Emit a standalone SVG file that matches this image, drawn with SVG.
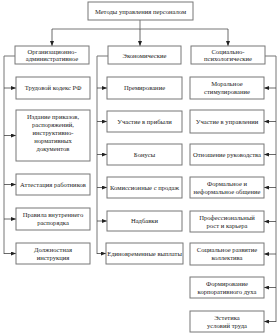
<svg xmlns="http://www.w3.org/2000/svg" width="280" height="333" viewBox="0 0 280 333">
<defs>
<marker id="ah" markerWidth="5" markerHeight="4" refX="5" refY="2" orient="auto" markerUnits="userSpaceOnUse">
<path d="M0,0 L5,2 L0,4 Z" fill="#222"/>
</marker>
<style>
.b{fill:#fff;stroke:#777;stroke-width:1}
.t{font-family:"Liberation Serif","DejaVu Serif",serif;font-size:6.6px;fill:#222;text-anchor:middle}
.c{fill:none;stroke:#777;stroke-width:1}
.a{fill:none;stroke:#444;stroke-width:0.8;marker-end:url(#ah)}
</style>
</defs>
<rect width="280" height="333" fill="#fff"/>
<g id="connectors">
<path class="c" d="M140,20 V29 M52,29 H228"/>
<line class="a" x1="52" y1="29" x2="52" y2="46"/>
<line class="a" x1="140" y1="29" x2="140" y2="46"/>
<line class="a" x1="228" y1="29" x2="228" y2="46"/>
<path class="c" d="M15,56 H4 V254"/>
<path class="c" d="M108,56 H97 V254"/>
<path class="c" d="M265,56 H276 V322"/>
<line class="a" x1="4" y1="88" x2="16" y2="88"/>
<line class="a" x1="4" y1="135.5" x2="16" y2="135.5"/>
<line class="a" x1="4" y1="184.5" x2="16" y2="184.5"/>
<line class="a" x1="4" y1="219" x2="16" y2="219"/>
<line class="a" x1="4" y1="253.5" x2="16" y2="253.5"/>
<line class="a" x1="97" y1="88" x2="107" y2="88"/>
<line class="a" x1="97" y1="121.5" x2="107" y2="121.5"/>
<line class="a" x1="97" y1="154.5" x2="107" y2="154.5"/>
<line class="a" x1="97" y1="187.5" x2="107" y2="187.5"/>
<line class="a" x1="97" y1="221" x2="107" y2="221"/>
<line class="a" x1="97" y1="253.5" x2="106" y2="253.5"/>
<line class="a" x1="276" y1="88" x2="264" y2="88"/>
<line class="a" x1="276" y1="121.5" x2="264" y2="121.5"/>
<line class="a" x1="276" y1="154.5" x2="264" y2="154.5"/>
<line class="a" x1="276" y1="187.5" x2="264" y2="187.5"/>
<line class="a" x1="276" y1="221.5" x2="264" y2="221.5"/>
<line class="a" x1="276" y1="254" x2="264" y2="254"/>
<line class="a" x1="276" y1="287.5" x2="264" y2="287.5"/>
<line class="a" x1="276" y1="321.5" x2="264" y2="321.5"/>
</g>
<g id="root"><rect class="b" x="88" y="2" width="105" height="18"/><text class="t" x="140.5" y="13.5">Методы управления персоналом</text></g>
<g id="org"><rect class="b" x="15" y="46" width="74" height="18"/><text class="t" x="52" y="53.5">Организационно-</text><text class="t" x="52" y="61">административное</text></g>
<g id="eco"><rect class="b" x="108" y="46" width="73" height="18"/><text class="t" x="144.5" y="57.5">Экономические</text></g>
<g id="soc"><rect class="b" x="191" y="46" width="74" height="18"/><text class="t" x="228" y="53.5">Социально-</text><text class="t" x="228" y="61">психологические</text></g>

<g id="l1"><rect class="b" x="16" y="77" width="74" height="22"/><text class="t" x="53" y="90">Трудовой кодекс РФ</text></g>
<g id="l2"><rect class="b" x="16" y="110" width="74" height="51"/><text class="t" x="53" y="119">Издание приказов,</text><text class="t" x="53" y="127">распоряжений,</text><text class="t" x="53" y="135">инструктивно-</text><text class="t" x="53" y="143">нормативных</text><text class="t" x="53" y="151">документов</text></g>
<g id="l3"><rect class="b" x="16" y="174" width="74" height="21"/><text class="t" x="53" y="187">Аттестация работников</text></g>
<g id="l4"><rect class="b" x="16" y="208" width="74" height="22"/><text class="t" x="53" y="217">Правила внутреннего</text><text class="t" x="53" y="225">распорядка</text></g>
<g id="l5"><rect class="b" x="16" y="243" width="74" height="21"/><text class="t" x="53" y="251.5">Должностная</text><text class="t" x="53" y="259.5">инструкция</text></g>

<g id="m1"><rect class="b" x="107" y="77" width="75" height="22"/><text class="t" x="144.5" y="90">Премирование</text></g>
<g id="m2"><rect class="b" x="107" y="111" width="75" height="21"/><text class="t" x="144.5" y="123.5">Участие в прибыли</text></g>
<g id="m3"><rect class="b" x="107" y="144" width="75" height="21"/><text class="t" x="144.5" y="156.5">Бонусы</text></g>
<g id="m4"><rect class="b" x="107" y="177" width="75" height="21"/><text class="t" x="144.5" y="189.5">Комиссионные с продаж</text></g>
<g id="m5"><rect class="b" x="107" y="211" width="75" height="20"/><text class="t" x="144.5" y="223">Надбавки</text></g>
<g id="m6"><rect class="b" x="106" y="243" width="77" height="21"/><text class="t" x="144.5" y="255.5">Единовременные выплаты</text></g>

<g id="r1"><rect class="b" x="190" y="77" width="74" height="22"/><text class="t" x="227" y="85.5">Моральное</text><text class="t" x="227" y="93.5">стимулирование</text></g>
<g id="r2"><rect class="b" x="190" y="110" width="74" height="23"/><text class="t" x="227" y="123.5">Участие в управлении</text></g>
<g id="r3"><rect class="b" x="190" y="144" width="74" height="21"/><text class="t" x="227" y="156.5">Отношение руководства</text></g>
<g id="r4"><rect class="b" x="190" y="177" width="74" height="21"/><text class="t" x="227" y="185.5">Формальное и</text><text class="t" x="227" y="193.5">неформальное общение</text></g>
<g id="r5"><rect class="b" x="190" y="211" width="74" height="21"/><text class="t" x="227" y="219.5">Профессиональный</text><text class="t" x="227" y="227.5">рост и карьера</text></g>
<g id="r6"><rect class="b" x="190" y="243" width="74" height="22"/><text class="t" x="227" y="251.5">Социальное развитие</text><text class="t" x="227" y="259.5">коллектива</text></g>
<g id="r7"><rect class="b" x="190" y="277" width="74" height="21"/><text class="t" x="227" y="285.5">Формирование</text><text class="t" x="227" y="293.5">корпоративного духа</text></g>
<g id="r8"><rect class="b" x="190" y="311" width="74" height="21"/><text class="t" x="227" y="319.5">Эстетика</text><text class="t" x="227" y="327.5">условий труда</text></g>
</svg>
